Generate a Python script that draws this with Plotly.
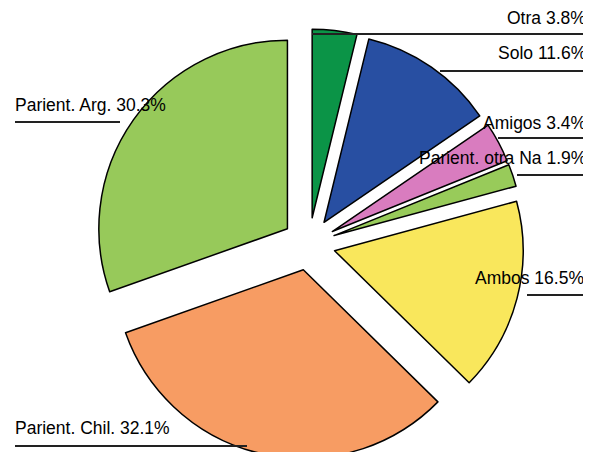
import plotly.graph_objects as go

# data
labels = ['Otra', 'Solo', 'Amigos', 'Parient. otra Na', 'Ambos', 'Parient. Chil.', 'Parient. Arg.']
values = [3.8, 11.6, 3.4, 1.9, 16.5, 32.1, 30.3]
colors = ['#0b9447', '#284fa2', '#d97cbf', '#98cb5a', '#f9e75c', '#f79c63', '#97c95a']

W, H = 591, 452
OFF = 8  # the page body margin shifts the figure by 8px

# label placement (screen pixels): x, y, anchor ; leader line: x0, x1, y
label_pos = [(588, 18, 'right'), (588, 53, 'right'), (588, 123, 'right'),
             (588, 158, 'right'), (586, 278, 'right'), (13, 428, 'left'),
             (13, 105, 'left')]
leaders = [(312, 600, 34), (440, 600, 71), (498, 600, 138), (517, 600, 175),
           (527, 600, 295), (15, 247, 446), (15, 120, 122)]


def px(sx):
    return (sx - OFF) / W


def py(sy):
    return 1 - (sy - OFF) / H


cx, cy, half = 309, 244, 215
fig = go.Figure(go.Pie(
    labels=labels, values=values, sort=False, direction='clockwise', rotation=0,
    marker=dict(colors=colors, line=dict(color='black', width=1.5)),
    pull=[0.14] * len(values), textinfo='none', hoverinfo='label+percent',
    domain=dict(x=[px(cx - half), px(cx + half)], y=[py(cy + half), py(cy - half)]),
))

for lab, val, (x, y, anc) in zip(labels, values, label_pos):
    fig.add_annotation(x=px(x), y=py(y), xref='paper', yref='paper',
                       text=f'{lab} {val}%', showarrow=False, xanchor=anc,
                       yanchor='middle', font=dict(family='Liberation Sans, Arial', size=17.5, color='black'))

for x0, x1, y in leaders:
    fig.add_shape(type='line', xref='paper', yref='paper', x0=px(x0), x1=px(x1),
                  y0=py(y), y1=py(y), line=dict(color='#222222', width=2))

fig.update_layout(width=W, height=H, showlegend=False,
                  margin=dict(l=0, r=0, t=0, b=0),
                  paper_bgcolor='white', plot_bgcolor='white')

fig.write_html('out.html')
